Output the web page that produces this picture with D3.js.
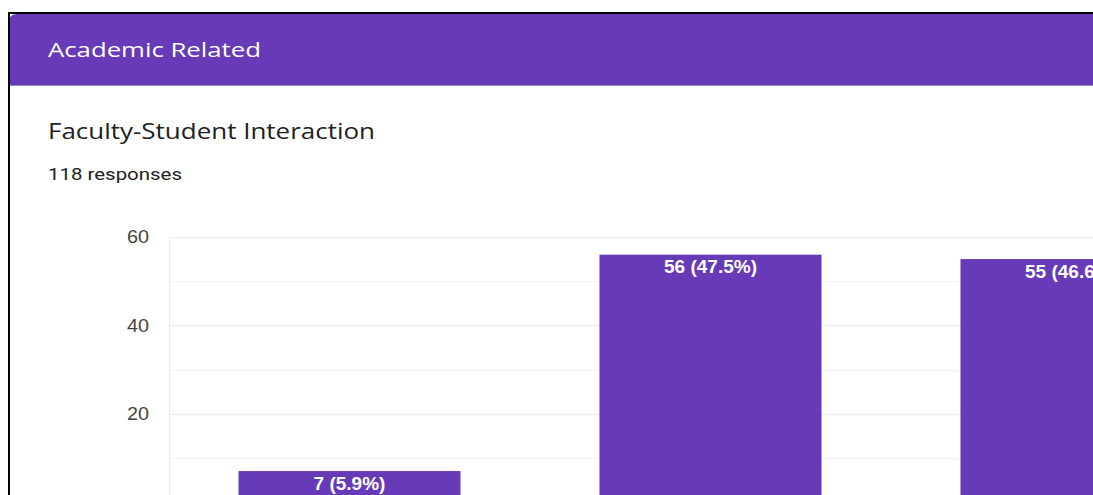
<!DOCTYPE html>
<html>
<head>
<meta charset="utf-8">
<script src="https://cdn.jsdelivr.net/npm/d3@7"></script>
<style>
  html, body { margin: 0; padding: 0; background: #fff; overflow: hidden; }
  svg { display: block; }
</style>
</head>
<body>
<svg id="viz" width="1093" height="495"></svg>
<script>
// values
let sectionTitle = "Academic Related";
let questionTitle = "Faculty-Student Interaction";
let totalResponses = 118;
let categories = ["Poor", "Average", "Good"];
let counts = [7, 56, 55];
let percents = [5.9, 47.5, 46.6];
let majorTicks = [0, 20, 40, 60];
let minorTicks = [10, 30, 50];
let labelTicks = [20, 40, 60];

let purple = "#673ab7";

let svg = d3.select("#viz");

// card header (the screenshot is a bit stretched sideways, hence textLength)
let header = svg.append("g");
header.append("path")
	.attr("d", "M9,86 V22 Q9,14 17,14 H1093 V86 Z")
	.attr("fill", purple);
header.append("line")
	.attr("x1", 9).attr("x2", 1093).attr("y1", 85.5).attr("y2", 85.5)
	.attr("stroke", "#9a7fd1").attr("stroke-width", 1);
header.append("text")
	.attr("x", 48).attr("y", 57)
	.attr("fill", "#fff")
	.attr("textLength", 213)
	.attr("lengthAdjust", "spacingAndGlyphs")
	.style("font-family", "'Open Sans', sans-serif")
	.style("font-size", "20.5px")
	.style("font-weight", 500)
	.text(sectionTitle);

svg.append("text")
	.attr("x", 48).attr("y", 139)
	.attr("fill", "#202124")
	.attr("textLength", 327)
	.attr("lengthAdjust", "spacingAndGlyphs")
	.style("font-family", "'Open Sans', sans-serif")
	.style("font-size", "21px")
	.text(questionTitle);

svg.append("text")
	.attr("x", 48).attr("y", 179.5)
	.attr("fill", "#202124")
	.attr("textLength", 134)
	.attr("lengthAdjust", "spacingAndGlyphs")
	.style("font-family", "Roboto, sans-serif")
	.style("font-size", "17px")
	.text(totalResponses + " responses");

// chart
let left = 169;
let step = 361;

let x = d3.scaleBand()
	.domain(categories)
	.range([left, left + step * categories.length])
	.paddingInner(0.385)
	.paddingOuter(0.385 / 2);

let y = d3.scaleLinear()
	.domain([0, 60])
	.range([502, 237]);

let chart = svg.append("g");

chart.selectAll(".minor")
	.data(minorTicks)
	.enter()
	.append("line")
	.attr("x1", left).attr("x2", 1093)
	.attr("y1", d => Math.round(y(d)) + 0.5)
	.attr("y2", d => Math.round(y(d)) + 0.5)
	.attr("stroke", "#f3f3f3");

chart.selectAll(".major")
	.data(majorTicks)
	.enter()
	.append("line")
	.attr("x1", left).attr("x2", 1093)
	.attr("y1", d => Math.round(y(d)) + 0.5)
	.attr("y2", d => Math.round(y(d)) + 0.5)
	.attr("stroke", "#ebebeb");

chart.append("line")
	.attr("x1", left + 0.5).attr("x2", left + 0.5)
	.attr("y1", y(60)).attr("y2", 495)
	.attr("stroke", "#ebebeb");

chart.selectAll(".ylab")
	.data(labelTicks)
	.enter()
	.append("text")
	.attr("x", 149)
	.attr("y", d => y(d))
	.attr("dy", "0.36em")
	.attr("text-anchor", "end")
	.attr("fill", "#444")
	.attr("textLength", 22)
	.attr("lengthAdjust", "spacingAndGlyphs")
	.style("font-family", "Arial, 'Liberation Sans', sans-serif")
	.style("font-size", "18px")
	.text(d => d);

let bars = chart.selectAll(".bar")
	.data(categories)
	.enter()
	.append("g");

bars.append("rect")
	.attr("x", d => x(d))
	.attr("y", (d, i) => y(counts[i]))
	.attr("width", x.bandwidth())
	.attr("height", (d, i) => y(0) - y(counts[i]))
	.attr("fill", purple);

bars.append("text")
	.attr("x", d => x(d) + x.bandwidth() / 2)
	.attr("y", (d, i) => y(counts[i]) + 18.5)
	.attr("text-anchor", "middle")
	.attr("fill", "#fff")
	.style("font-family", "Arial, 'Liberation Sans', sans-serif")
	.style("font-size", "19px")
	.style("font-weight", "bold")
	.text((d, i) => counts[i] + " (" + percents[i] + "%)");

// screenshot frame
svg.append("path")
	.attr("d", "M9,495 V13 H1093")
	.attr("fill", "none")
	.attr("stroke", "#000")
	.attr("stroke-width", 2);
</script>
</body>
</html>
